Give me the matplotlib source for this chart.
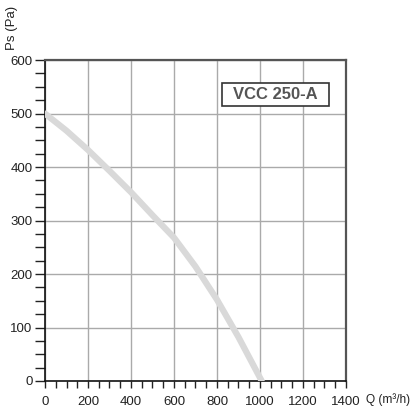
import matplotlib.pyplot as plt
from matplotlib.patches import Rectangle
from matplotlib.ticker import MultipleLocator

# curve data
flow = [0, 100, 200, 300, 400, 500, 600, 700, 800, 900, 1008]
pressure = [500, 468, 432, 393, 353, 310, 268, 214, 152, 82, 0]
model_name = "VCC 250-A"

plt.rcParams['font.family'] = ['Liberation Sans', 'DejaVu Sans']

fig = plt.figure(figsize=(4.14, 4.09), dpi=100)
ax = fig.add_axes([0.1087, 0.0685, 0.727, 0.7845])

ax.plot(flow, pressure, color="#d9d9d9", lw=4.5, solid_capstyle="round", zorder=3)

ax.set_xlim(0, 1400)
ax.set_ylim(0, 600)
ax.xaxis.set_major_locator(MultipleLocator(200))
ax.xaxis.set_minor_locator(MultipleLocator(50))
ax.yaxis.set_major_locator(MultipleLocator(100))
ax.yaxis.set_minor_locator(MultipleLocator(25))
ax.grid(True, which="major", color="#aaaaaa", lw=1)
ax.tick_params(which="both", direction="out", length=7, width=1, color="#222222",
               labelsize=9.5, labelcolor="#222222", pad=2)
ax.tick_params(axis="x", which="both", length=5, pad=6)

for s in ["left", "bottom"]:
    ax.spines[s].set_color("#111111")
    ax.spines[s].set_linewidth(1.2)
for s in ["top", "right"]:
    ax.spines[s].set_color("#555555")
    ax.spines[s].set_linewidth(1.6)

# model name box
ax.add_patch(Rectangle((823, 514), 498, 43, fc="white", ec="#333333", lw=1.2, zorder=5))
ax.text(1072, 535.5, model_name, ha="center", va="center", fontsize=12, fontweight="bold",
        color="#555555", zorder=6)

fig.text(12 / 414, 1 - 28 / 409, "Ps (Pa)", rotation=90, ha="center", va="center",
         fontsize=9.5, color="#222222")
fig.text(366 / 414, 1 - 400 / 409, "Q (m³/h)", ha="left", va="center",
         fontsize=8.6, color="#222222")

fig.savefig("out.png", dpi=100)
